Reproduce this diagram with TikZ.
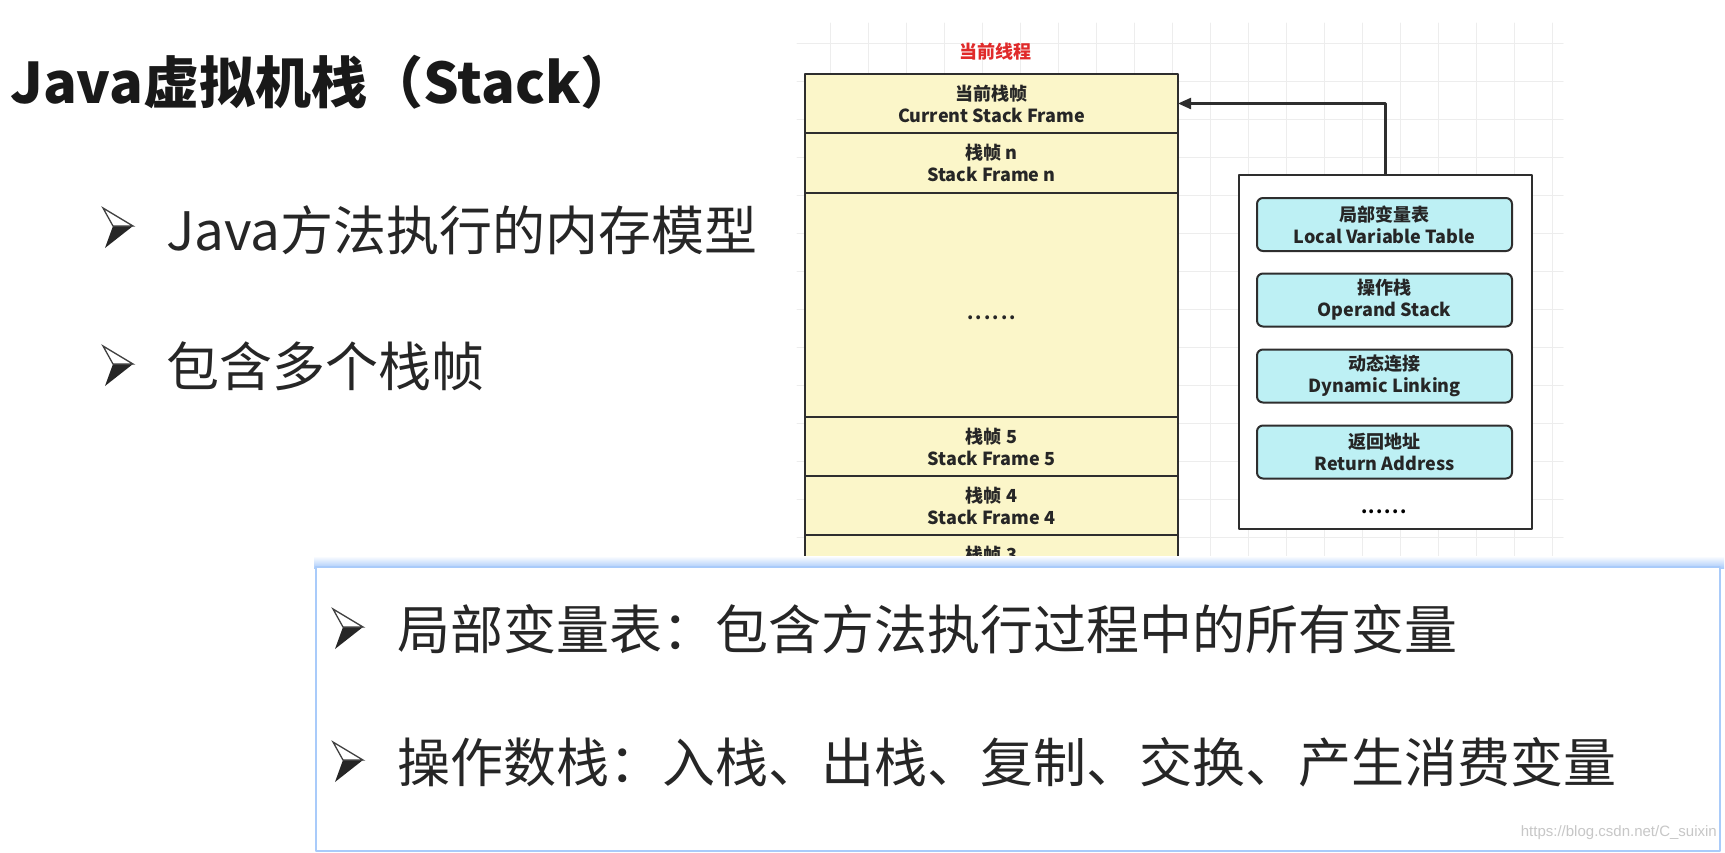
\documentclass[tikz,border=0pt]{standalone}
\usepackage{fontspec}
\setmainfont{Noto Sans CJK SC}
\newfontfamily\wmfont{Liberation Sans}
\usetikzlibrary{arrows.meta}

\definecolor{frameyellow}{HTML}{FBF6C9}
\definecolor{slotcyan}{HTML}{BDF0F4}
\definecolor{edgegray}{HTML}{2E2E2E}
\definecolor{gridgray}{HTML}{EDEDED}
\definecolor{threadred}{HTML}{E02A2A}
\definecolor{glowblue}{HTML}{A9CBFA}

% 六个点
\newcommand{\sixdots}[1]{\makebox[#1]{.\hfill.\hfill.\hfill.\hfill.\hfill.}}

\tikzset{
  stackrow/.style={
    draw=edgegray, line width=2.6, fill=frameyellow,
    minimum width=373, inner sep=0, outer sep=0,
    align=center, text=black!85,
    font=\fontsize{18}{22}\selectfont\bfseries
  },
  slotbox/.style={
    draw=edgegray, line width=2, fill=slotcyan,
    rounded corners=6, minimum width=255, minimum height=53,
    inner sep=0, align=center, text=black!85,
    font=\fontsize{18}{22}\selectfont\bfseries
  },
  slidetext/.style={
    anchor=west, inner sep=0, text=black!85,
    font=\fontsize{53}{60}\selectfont
  },
  pics/barrow/.style={code={
    \fill[black!85] (-5,0) -- (15,0) -- (-13,22) -- cycle;
    \draw[black!75, line width=1.3, fill=white, line join=miter]
      (-15,-18) -- (15,0) -- (-5,0) -- cycle;
  }}
}

\begin{document}
\begin{tikzpicture}[
  x=1pt,
  y=-1pt,
  line cap=round,
  line join=round
]
  \useasboundingbox[fill=white] (0,0) rectangle (1725,852);

  % 网格背景
  \foreach \gx in {830,868,...,1552}
    \draw[gridgray, line width=1] (\gx,23) -- (\gx,566);
  \foreach \gy in {43,81,...,537}
    \draw[gridgray, line width=1] (797,\gy) -- (1563,\gy);

  % 标题与要点
  \node[slidetext, text=black!90,
    font=\fontsize{56}{64}\selectfont\bfseries]
    (title) at (10,82) {Java虚拟机栈（Stack）};

  \pic at (118,226) {barrow};
  \node[slidetext] (pt1) at (166,230) {Java方法执行的内存模型};

  \pic at (118,364) {barrow};
  \node[slidetext] (pt2) at (166,366) {包含多个栈帧};

  % 线程栈
  \node[text=threadred, inner sep=0,
    font=\fontsize{18}{22}\selectfont\bfseries]
    (thread) at (995,52) {当前线程};

  \node[stackrow, minimum height=59] (cur) at (991.5,103.5)
    {当前栈帧\\Current Stack Frame};
  \node[stackrow, minimum height=60] (fn) at (991.5,163)
    {栈帧 n\\Stack Frame n};
  \node[stackrow, minimum height=224] (gap) at (991.5,305)
    {\raisebox{-30pt}{\sixdots{49pt}}};
  \node[stackrow, minimum height=59] (f5) at (991.5,446.5)
    {栈帧 5\\Stack Frame 5};
  \node[stackrow, minimum height=59] (f4) at (991.5,505.5)
    {栈帧 4\\Stack Frame 4};
  \node[stackrow, minimum height=60] (f3) at (991.5,565)
    {栈帧 3\\Stack Frame 3};

  % 栈帧结构
  \node[draw=edgegray, line width=2.5, fill=white,
    minimum width=293, minimum height=354, inner sep=0]
    (frame) at (1385.5,352) {};

  \node[slotbox] (lvt) at (1384.5,224.5)
    {局部变量表\\Local Variable Table};
  \node[slotbox] (ops) at (1384.5,300)
    {操作栈\\Operand Stack};
  \node[slotbox] (dyn) at (1384.5,376)
    {动态连接\\Dynamic Linking};
  \node[slotbox] (ret) at (1384.5,452)
    {返回地址\\Return Address};
  \node[inner sep=0, font=\fontsize{18}{22}\selectfont\bfseries]
    (more) at (1384,512) {\sixdots{46pt}};

  \draw[edgegray, line width=2.2,
    -{Triangle[length=13pt,width=11pt]}]
    (frame.north) |- (cur.east);

  % 下方说明框
  \shade[top color=white, bottom color=glowblue]
    (314,556) rectangle (1724,568);
  \node[draw=glowblue, line width=2, fill=white,
    minimum width=1404, minimum height=284, inner sep=0]
    (panel) at (1018,709) {};

  \pic at (348,627) {barrow};
  \node[slidetext] (pt3) at (397,629)
    {局部变量表：包含方法执行过程中的所有变量};

  \pic at (348,760) {barrow};
  \node[slidetext] (pt4) at (397,762)
    {操作数栈：入栈、出栈、复制、交换、产生消费变量};

  \node[anchor=east, inner sep=0, text=black!22,
    font=\wmfont\fontsize{15}{18}\selectfont]
    (mark) at (1717,833) {https://blog.csdn.net/C\_suixin};
\end{tikzpicture}
\end{document}
